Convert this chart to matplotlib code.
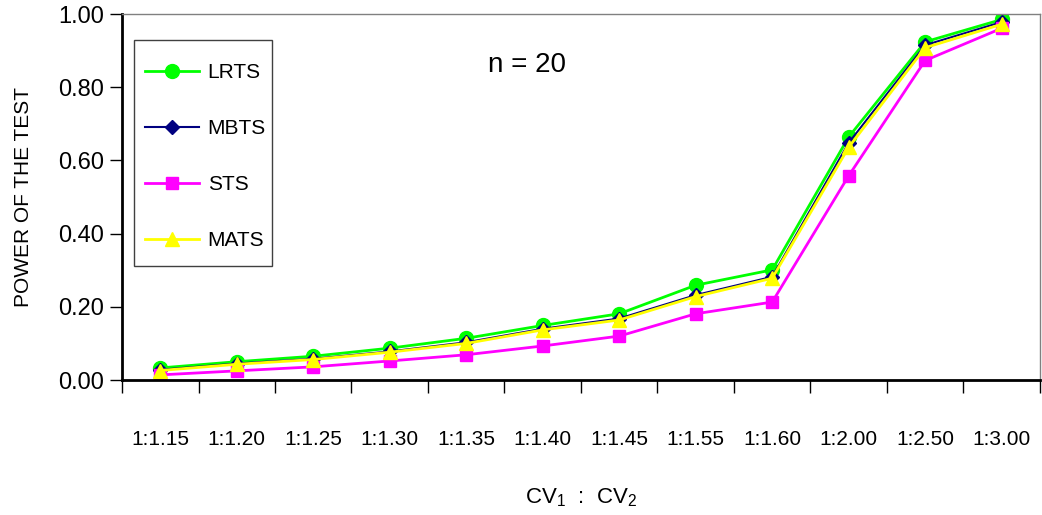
import numpy as np
import matplotlib.pyplot as plt
from matplotlib.patches import Rectangle

# ratios CV1 : CV2
ratios = ["1:1.15", "1:1.20", "1:1.25", "1:1.30", "1:1.35", "1:1.40",
          "1:1.45", "1:1.55", "1:1.60", "1:2.00", "1:2.50", "1:3.00"]

# power of each test, n = 20
lrts = [0.033, 0.050, 0.065, 0.087, 0.114, 0.149, 0.181, 0.259, 0.301, 0.664, 0.924, 0.985]
mbts = [0.028, 0.045, 0.058, 0.078, 0.103, 0.140, 0.168, 0.232, 0.282, 0.648, 0.915, 0.978]
sts = [0.014, 0.025, 0.036, 0.052, 0.069, 0.093, 0.120, 0.181, 0.213, 0.558, 0.873, 0.961]
mats = [0.026, 0.043, 0.056, 0.076, 0.100, 0.137, 0.164, 0.228, 0.278, 0.636, 0.908, 0.972]

plt.rcParams['font.family'] = ['Liberation Sans', 'DejaVu Sans']
plt.rcParams['mathtext.fontset'] = 'custom'
plt.rcParams['mathtext.rm'] = 'Liberation Sans'

fig = plt.figure(figsize=(10.42, 5.15), dpi=100)
ax = fig.add_axes([0.1171, 0.2621, 0.8809, 0.7107])

x = np.arange(len(ratios)) + 0.5
ax.plot(x, lrts, color='#00FF00', lw=2, marker='o', ms=10, label='LRTS')
ax.plot(x, mbts, color='#000080', lw=1.5, marker='D', ms=7, label='MBTS')
ax.plot(x, sts, color='#FF00FF', lw=2, marker='s', ms=9, label='STS')
ax.plot(x, mats, color='#FFFF00', lw=2, marker='^', ms=10, label='MATS')

ax.set_xlim(0, len(ratios))
ax.set_ylim(0, 1.0)
yt = np.arange(0, 1.01, 0.2)
ax.set_yticks(yt)
ax.set_yticklabels(['%.2f' % v for v in yt], fontsize=17)
ax.tick_params(axis='y', direction='out', length=9, width=1, pad=4)

ax.set_xticks(np.arange(0, len(ratios) + 1))
ax.set_xticklabels([])
ax.tick_params(axis='x', which='major', direction='out', length=9, width=1)
ax.set_xticks(x, minor=True)
ax.set_xticklabels(ratios, minor=True, fontsize=15)
ax.tick_params(axis='x', which='minor', length=0, pad=36)

for s in ['left', 'bottom']:
    ax.spines[s].set_linewidth(2)
    ax.spines[s].set_color('black')
for s in ['top', 'right']:
    ax.spines[s].set_linewidth(1)
    ax.spines[s].set_color('#808080')

ax.set_ylabel('POWER OF THE TEST', fontsize=15, labelpad=18)
ax.set_xlabel(r'CV$_{1}$  :  CV$_{2}$', fontsize=16, labelpad=27)

ax.text(0.441, 0.862, 'n = 20', transform=ax.transAxes, fontsize=20, ha='center', va='center')

# legend box drawn by hand, entries placed inside it
ax.add_patch(Rectangle((0.0131, 0.3115), 0.1503, 0.6175, transform=ax.transAxes,
                       fill=True, facecolor='white', edgecolor='#404040', lw=1, zorder=4))
leg = ax.legend(loc='upper left', bbox_to_anchor=(0.0251, 0.866), borderaxespad=0,
                fontsize=15, frameon=False, labelspacing=1.78, handlelength=2.6,
                borderpad=0, handletextpad=0.4)
leg.set_zorder(5)

fig.savefig('out.png', dpi=100)
